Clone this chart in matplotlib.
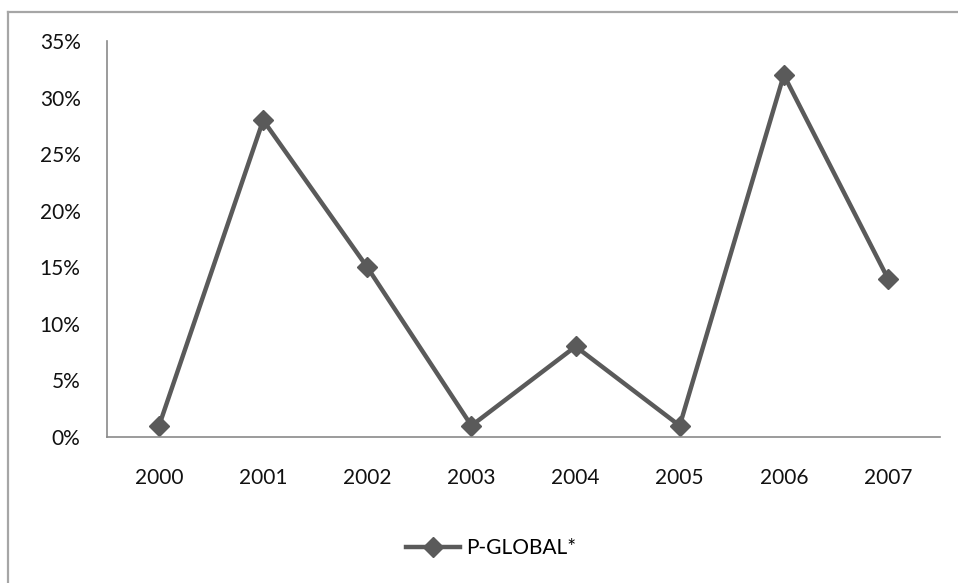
import matplotlib.pyplot as plt
from matplotlib.lines import Line2D
from matplotlib.ticker import FuncFormatter

annees = ["2000", "2001", "2002", "2003", "2004", "2005", "2006", "2007"]
p_global = [1, 28, 15, 1, 8, 1, 32, 14]
yticks = [0, 5, 10, 15, 20, 25, 30, 35]

plt.rcParams['font.family'] = ['Lato', 'DejaVu Sans']

W, H = 958, 583
fig = plt.figure(figsize=(W / 100, H / 100), dpi=100)
ax = fig.add_axes([107 / W, 1 - 437 / H, (940 - 107) / W, (437 - 41) / H])

x = range(len(annees))
ax.plot(x, p_global, color='#5a5a5a', lw=3.2, marker='D', markersize=10,
        label='P-GLOBAL*')

ax.set_xlim(-0.5, len(annees) - 0.5)
ax.set_ylim(0, 35)
ax.set_xticks(list(x))
ax.set_xticklabels(annees)
ax.set_yticks(yticks)
ax.yaxis.set_major_formatter(FuncFormatter(lambda v, p: f"{v:.0f}%"))
ax.tick_params(axis='y', length=0, pad=19, labelsize=15, labelcolor='#111111')
ax.tick_params(axis='x', length=0, pad=22, labelsize=15, labelcolor='#111111')

for s in ['top', 'right']:
    ax.spines[s].set_visible(False)
for s in ['left', 'bottom']:
    ax.spines[s].set_color('#8a8a8a')
    ax.spines[s].set_linewidth(1.2)

# cadre extérieur (seulement gauche et haut visibles)
fig.add_artist(Line2D([8 / W, 8 / W], [0, 1 - 12 / H], color='#a6a6a6', lw=1.6))
fig.add_artist(Line2D([8 / W, 1], [1 - 12 / H, 1 - 12 / H], color='#a6a6a6', lw=1.6))

fig.legend(loc='center', bbox_to_anchor=(491 / W, 1 - 548 / H), frameon=False,
           fontsize=15, handlelength=2.6, handletextpad=0.3)

fig.savefig('out.png', dpi=100)
